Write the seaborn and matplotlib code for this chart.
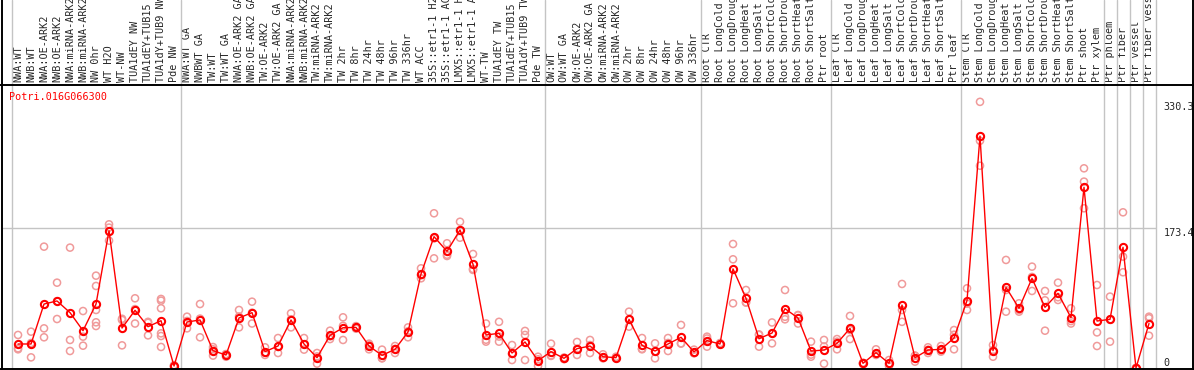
import numpy as np
import pandas as pd
import matplotlib
matplotlib.use("Agg")
import matplotlib.pyplot as plt
from matplotlib.lines import Line2D
import seaborn as sns

gene = "Potri.016G066300"

samples = [
    "NWA:WT", "NWB:WT", "NWA:OE-ARK2", "NWB:OE-ARK2", "NWA:miRNA-ARK2", "NWB:miRNA-ARK2",
    "NW 0hr", "WT H2O", "WT-NW", "TUA1dEY NW", "TUA1dEY+TUB15", "TUA1dY+TUB9 NW", "Pde NW",
    "NWA:WT GA", "NWBWT GA", "TW:WT", "TW:WT GA", "NWA:OE-ARK2 GA", "NWB:OE-ARK2 GA",
    "TW:OE-ARK2", "TW:OE-ARK2 GA", "NWA:miRNA-ARK2", "NWB:miRNA-ARK2", "TW:miRNA-ARK2",
    "TW:miRNA-ARK2", "TW 2hr", "TW 8hr", "TW 24hr", "TW 48hr", "TW 96hr", "TW 336hr",
    "WT ACC", "35S::etr1-1 H2", "35S::etr1-1 AC", "LMX5::etr1-1 H", "LMX5::etr1-1 A",
    "WT-TW", "TUA1dEY TW", "TUA1dEY+TUB15", "TUA1dY+TUB9 TW", "Pde TW",
    "OW:WT", "OW:WT GA", "OW:OE-ARK2", "OW:OE-ARK2 GA", "OW:miRNA-ARK2", "OW:miRNA-ARK2",
    "OW 2hr", "OW 8hr", "OW 24hr", "OW 48hr", "OW 96hr", "OW 336hr",
    "Root CTR", "Root LongCold", "Root LongDroug", "Root LongHeat", "Root LongSalt",
    "Root ShortCold", "Root ShortDrou", "Root ShortHeat", "Root ShortSalt", "Ptr root",
    "Leaf CTR", "Leaf LongCold", "Leaf LongDroug", "Leaf LongHeat", "Leaf LongSalt",
    "Leaf ShortCold", "Leaf ShortDrou", "Leaf ShortHeat", "Leaf ShortSalt", "Ptr leaf",
    "Stem CTR", "Stem LongCold", "Stem LongDroug", "Stem LongHeat", "Stem LongSalt",
    "Stem ShortCold", "Stem ShortDrou", "Stem ShortHeat", "Stem ShortSalt", "Ptr shoot",
    "Ptr xylem", "Ptr phloem", "Ptr fiber", "Ptr vessel", "Ptr fiber vessel",
]

group_sizes = [13, 28, 12, 10, 10, 11, 1, 1, 1, 1]

mean_expr = [
    29.8, 29.8, 79.4, 83.2, 68.7, 46.3, 79.4, 170.4, 49.6, 71.6, 51.3, 58.7, 2.5,
    57.1, 59.6, 21.5, 16.1, 62.1, 68.7, 20.3, 27.3, 59.6, 29.8, 12.8, 40.5, 50.0,
    50.4, 27.3, 15.7, 23.2, 44.7, 116.7, 163.0, 144.8, 171.3, 128.7, 41.0, 43.0,
    18.6, 32.3, 9.1,
    20.3, 12.0, 24.0, 27.3, 14.0, 12.8, 60.4, 28.1, 21.1, 29.8, 38.1, 19.9,
    34.0, 29.8, 123.0, 86.5, 36.4, 43.4, 73.6, 62.1, 21.1, 22.3,
    30.6, 49.2, 5.8, 19.0, 5.8, 78.1, 12.8, 22.3, 23.2, 37.2,
    83.6, 287.8, 21.5, 100.1, 74.1, 111.3, 75.3, 92.7, 62.5, 224.3,
    58.3, 60.4, 149.8, 0.0, 55.2,
]

replicates = [
    [41.0, 24.4, 23.2], [45.1, 13.2, 31.0], [150.6, 49.2, 38.1], [105.9, 60.8, 82.9],
    [149.4, 34.8, 21.1], [70.7, 38.9, 27.7], [114.6, 101.8, 72.0, 56.7, 52.1],
    [178.3, 174.2, 158.0], [59.6, 28.1, 61.1], [86.5, 55.2, 73.1], [57.3, 40.5, 56.1],
    [85.7, 83.6, 74.1, 43.0, 39.7, 26.1], [1.5, 3.5, 2.5],
    [63.7, 49.2, 58.4], [79.4, 38.1, 61.3], [23.2, 15.4, 26.0], [17.0, 14.0, 17.3],
    [72.0, 50.4, 63.9], [82.3, 55.2, 68.6], [25.7, 16.2, 19.0], [37.2, 18.6, 26.1],
    [67.9, 50.4, 60.5], [37.2, 22.8, 29.4], [18.6, 5.4, 14.4], [46.3, 35.9, 39.3],
    [62.9, 34.8, 52.3], [50.4, 52.0, 48.8], [28.5, 23.2, 30.2], [22.8, 12.0, 12.3],
    [27.3, 18.6, 23.7], [50.4, 38.1, 45.6], [123.7, 111.3, 115.1], [192.0, 136.1, 160.9],
    [154.8, 139.0, 140.6], [181.5, 161.7, 170.7], [141.5, 121.7, 122.9],
    [55.2, 32.7, 35.1], [57.3, 32.7, 39.0], [28.5, 9.9, 17.4], [41.0, 9.9, 46.0],
    [14.0, 2.5, 10.8],
    [30.2, 15.0, 15.7], [12.0, 11.0, 13.0], [32.3, 16.2, 23.5], [34.8, 18.6, 28.5],
    [17.0, 12.0, 13.0], [14.0, 12.0, 12.4], [69.9, 51.3, 60.0], [37.2, 23.2, 23.9],
    [30.6, 12.0, 20.7], [37.2, 21.1, 31.1], [53.4, 30.6, 30.3], [22.8, 18.6, 18.3],
    [38.9, 26.5, 36.6], [31.0, 29.0, 29.4], [153.9, 134.9, 80.3], [96.8, 81.1, 81.6],
    [41.0, 26.5, 41.7], [56.5, 30.6, 43.1], [96.8, 60.4, 63.6], [65.8, 55.2, 65.3],
    [32.7, 14.0, 16.6], [34.8, 5.4, 26.7],
    [35.9, 23.2, 32.7], [64.6, 35.9, 47.1], [5.0, 6.5, 5.9], [23.2, 16.2, 17.6],
    [9.9, 2.5, 5.0], [104.3, 72.0, 57.3], [15.4, 7.9, 15.1], [25.7, 18.6, 22.6],
    [27.3, 20.3, 22.0], [47.1, 23.2, 41.3],
    [98.9, 72.0, 79.9], [330.3, 282.0, 251.0], [28.5, 14.0, 22.0], [134.1, 96.8, 69.9],
    [80.3, 69.9, 72.1], [125.8, 113.0, 95.6], [95.6, 46.3, 84.0], [105.9, 84.4, 87.8],
    [74.1, 55.2, 58.2], [247.8, 231.3, 198.2],
    [103.0, 44.2, 27.3], [88.6, 32.7, 59.9], [193.2, 138.2, 118.8], [0.0, 0.0, 0.0],
    [63.7, 40.1, 61.8],
]

y_ticks = [0, 173.4, 330.3]
grid_value = 173.4

# ---------------------------------------------------------------
sns.set_style("white")
plt.rcParams["font.family"] = ["DejaVu Sans Mono", "DejaVu Sans"]
FS = 7.3

W, H = 1194, 370
fig = plt.figure(figsize=(W / 100, H / 100), dpi=100)
ax_l, ax_r, ax_t, ax_b = 1.0, 1155.5, 85.0, 369.0
ax = fig.add_axes([ax_l / W, 1 - ax_b / H, (ax_r - ax_l) / W, (ax_b - ax_t) / H])
ax.set_facecolor("white")

pos = np.arange(len(samples))
rep_df = pd.DataFrame(
    [(i, v) for i, reps in enumerate(replicates) for v in reps], columns=["pos", "value"]
)
mean_df = pd.DataFrame({"pos": pos, "value": mean_expr})

# separators and grid
bounds = np.concatenate([[0], np.cumsum(group_sizes)]) - 0.5
ext = ax_b / (ax_b - ax_t)
for b in bounds:
    ax.axvline(b, ymin=0, ymax=ext, color="#c4c4c4", lw=1.0, clip_on=False, zorder=1)
ax.axhline(grid_value, color="#c4c4c4", lw=1.0, zorder=1)

sns.scatterplot(
    data=rep_df, x="pos", y="value", ax=ax, s=26, marker="o",
    facecolor="none", edgecolor="#f09a9a", linewidth=1.1, zorder=2, legend=False,
)
sns.lineplot(
    data=mean_df, x="pos", y="value", ax=ax, color="#ff0000", lw=1.0,
    marker="o", markersize=5.2, markerfacecolor="none", markeredgecolor="#ff0000",
    markeredgewidth=1.5, zorder=3,
)

ax.set_xlim(-1.31, len(samples) - 0.5)
ax.set_ylim(-1.24, 351.2)

ax.xaxis.tick_top()
ax.set_xticks(pos)
ax.set_xticklabels(samples, rotation=90, fontsize=FS, va="bottom", ha="center")
ax.tick_params(axis="x", length=0, pad=2, top=True, bottom=False)

ax.yaxis.tick_right()
ax.set_yticks(y_ticks)
ax.set_yticklabels([f"{t:g}" for t in y_ticks], fontsize=FS)
ax.tick_params(axis="y", length=0, pad=6, right=True, left=False)
for t, lab in zip(y_ticks, ax.get_yticklabels()):
    lab.set_va("bottom" if t == 0 else "top")

ax.set_xlabel("")
ax.set_ylabel("")
for s in ax.spines.values():
    s.set_visible(False)

ax.text(8.5 / (ax_r - ax_l), 1 - 6.5 / (ax_b - ax_t), gene, transform=ax.transAxes,
        color="#ff0000", fontsize=FS, ha="left", va="top")

# frame lines across the whole picture
lk = dict(color="black", lw=1.4, transform=fig.transFigure)
fig.add_artist(Line2D([0, 1], [1 - ax_t / H, 1 - ax_t / H], **lk))
fig.add_artist(Line2D([0, 1], [1 - ax_b / H, 1 - ax_b / H], **lk))
fig.add_artist(Line2D([1.5 / W, 1.5 / W], [0, 1], **lk))
fig.add_artist(Line2D([1193 / W, 1193 / W], [0, 1], **lk))

fig.savefig("out.png", dpi=100, facecolor="white")
